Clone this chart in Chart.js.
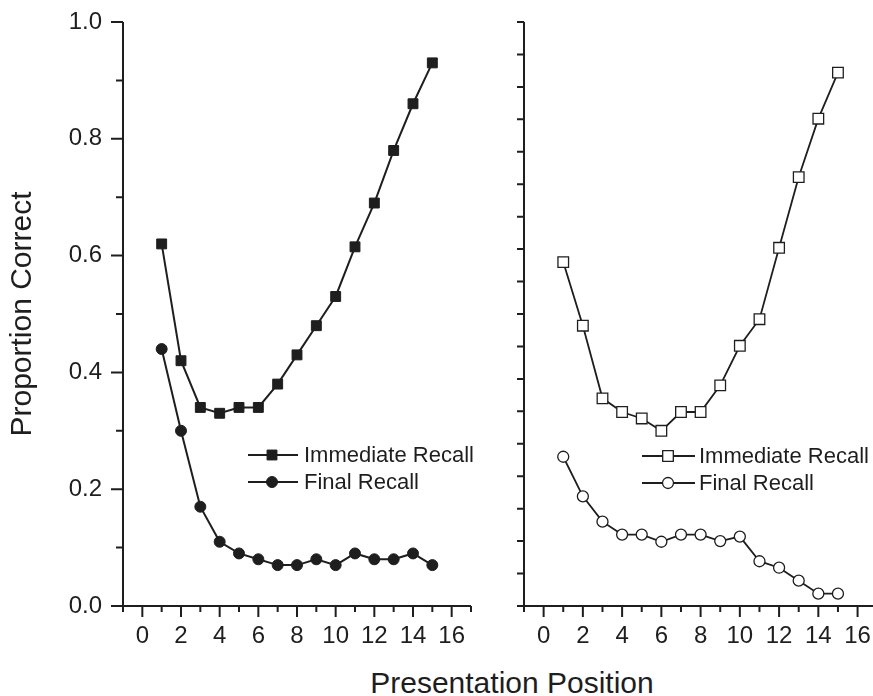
<!DOCTYPE html>
<html>
<head>
<meta charset="utf-8">
<title>Serial position curves</title>
<script src="https://cdn.jsdelivr.net/npm/chart.js@4.4.1/dist/chart.umd.min.js"></script>
<style>
  body { margin: 0; background: #fff; overflow: hidden; width: 873px; height: 696px; position: relative; }
  canvas { position: absolute; top: 0; }
  #left { left: 0; }
  #right { left: 460px; }
  #xtitle {
    position: absolute; left: 312px; width: 400px; top: 668px; text-align: center;
    font: 30px/30px "Liberation Sans", Arial, sans-serif; color: #1e1e1e;
  }
</style>
</head>
<body>
<canvas id="left" width="480" height="660"></canvas>
<canvas id="right" width="426" height="660"></canvas>
<div id="xtitle">Presentation Position</div>
<script>
'use strict';

// presentation positions
var positions = [1, 2, 3, 4, 5, 6, 7, 8, 9, 10, 11, 12, 13, 14, 15];

// left panel
var leftImmediate = [0.62, 0.42, 0.34, 0.33, 0.34, 0.34, 0.38, 0.43, 0.48, 0.53, 0.615, 0.69, 0.78, 0.86, 0.93];
var leftFinal = [0.44, 0.30, 0.17, 0.11, 0.09, 0.08, 0.07, 0.07, 0.08, 0.07, 0.09, 0.08, 0.08, 0.09, 0.07];

// right panel (axis has no labels, scale 0 - 0.9)
var rightImmediate = [0.53, 0.432, 0.32, 0.299, 0.289, 0.27, 0.299, 0.299, 0.34, 0.401, 0.442, 0.552, 0.661, 0.751, 0.822];
var rightFinal = [0.23, 0.169, 0.13, 0.11, 0.11, 0.099, 0.11, 0.11, 0.10, 0.107, 0.069, 0.059, 0.039, 0.019, 0.019];

var xTickLabels = ['0', '2', '4', '6', '8', '10', '12', '14', '16'];
var yTickLabels = ['0.0', '0.2', '0.4', '0.6', '0.8', '1.0'];

var ink = '#1e1e1e';
var fontFamily = '"Liberation Sans", Arial, sans-serif';

function toPoints(ys) {
  return positions.map(function (p, i) { return { x: p, y: ys[i] }; });
}

// ticks (long/short) + axis lines + the inline legend
var axisDecor = {
  id: 'axisDecor',
  afterDraw: function (chart, args, opts) {
    var ctx = chart.ctx;
    var area = chart.chartArea;
    var xs = chart.scales.x;
    var ys = chart.scales.y;
    ctx.save();
    ctx.strokeStyle = ink;
    ctx.lineWidth = 2;
    ctx.beginPath();
    ctx.moveTo(area.left, area.top);
    ctx.lineTo(area.left, area.bottom + 4);
    ctx.moveTo(area.left - 3, area.bottom);
    ctx.lineTo(area.right, area.bottom);
    xs.ticks.forEach(function (t) {
      var px = xs.getPixelForValue(t.value);
      ctx.moveTo(px, area.bottom);
      ctx.lineTo(px, area.bottom + (t.label ? opts.xMajor : opts.xMinor));
    });
    ys.ticks.forEach(function (t) {
      var py = ys.getPixelForValue(t.value);
      ctx.moveTo(area.left, py);
      ctx.lineTo(area.left - (t.label ? opts.yMajor : opts.yMinor), py);
    });
    ctx.stroke();

    // legend
    var lg = opts.legend;
    ctx.font = '22px ' + fontFamily;
    ctx.textBaseline = 'middle';
    ctx.textAlign = 'left';
    chart.data.datasets.forEach(function (ds, i) {
      var y = lg.rows[i];
      ctx.strokeStyle = ink;
      ctx.lineWidth = ds.borderWidth;
      ctx.beginPath();
      ctx.moveTo(lg.x1, y);
      ctx.lineTo(lg.x2, y);
      ctx.stroke();
      ctx.fillStyle = ds.pointBackgroundColor;
      ctx.strokeStyle = ds.pointBorderColor;
      ctx.lineWidth = ds.pointBorderWidth;
      Chart.helpers.drawPoint(ctx, {
        pointStyle: ds.pointStyle, radius: ds.pointRadius, rotation: 0, borderWidth: ds.pointBorderWidth
      }, lg.marker, y);
      ctx.fillStyle = ink;
      ctx.fillText(ds.label, lg.text, y + 1);
    });
    ctx.restore();
  }
};

function makeOptions(cfg) {
  return {
    responsive: false,
    animation: false,
    layout: { padding: { top: 22, right: cfg.padRight, bottom: 0, left: 0 } },
    plugins: {
      legend: { display: false },
      tooltip: { enabled: false },
      axisDecor: {
        xMajor: 11, xMinor: 6, yMajor: cfg.yMajor, yMinor: cfg.yMinor,
        legend: cfg.legend
      }
    },
    scales: {
      x: {
        type: 'linear',
        min: -1,
        max: 17,
        grid: { display: false, drawTicks: false },
        border: { display: false },
        afterFit: function (scale) {
          scale.height = 54;
          scale.paddingLeft = 0;
          scale.paddingRight = 0;
        },
        ticks: {
          stepSize: 1,
          autoSkip: false,
          maxRotation: 0,
          padding: 16,
          color: ink,
          font: { family: fontFamily, size: 24 },
          callback: function (v) {
            return xTickLabels.indexOf(String(v)) >= 0 ? String(v) : '';
          }
        }
      },
      y: {
        min: 0,
        max: cfg.yMax,
        grid: { display: false, drawTicks: false },
        border: { display: false },
        afterFit: function (scale) {
          scale.width = cfg.yWidth;
          scale.paddingTop = 0;
          scale.paddingBottom = 0;
        },
        title: cfg.yTitle,
        ticks: {
          stepSize: cfg.yStep,
          autoSkip: false,
          padding: 21,
          color: ink,
          font: { family: fontFamily, size: 24 },
          callback: cfg.yLabel
        }
      }
    }
  };
}

new Chart(document.getElementById('left'), {
  type: 'line',
  data: {
    datasets: [{
      label: 'Immediate Recall',
      data: toPoints(leftImmediate),
      borderColor: ink,
      borderWidth: 2,
      pointStyle: 'rect',
      pointRadius: 7,
      pointBackgroundColor: ink,
      pointBorderColor: ink,
      pointBorderWidth: 1
    }, {
      label: 'Final Recall',
      data: toPoints(leftFinal),
      borderColor: ink,
      borderWidth: 2,
      pointStyle: 'circle',
      pointRadius: 5.5,
      pointBackgroundColor: ink,
      pointBorderColor: ink,
      pointBorderWidth: 1
    }]
  },
  options: makeOptions({
    padRight: 9,
    yWidth: 123,
    yMax: 1,
    yStep: 0.1,
    yMajor: 12,
    yMinor: 7,
    yTitle: {
      display: true,
      text: 'Proportion Correct',
      color: ink,
      font: { family: fontFamily, size: 30 },
      padding: { top: 5, bottom: 0 }
    },
    yLabel: function (v) {
      var s = v.toFixed(1);
      return yTickLabels.indexOf(s) >= 0 ? s : '';
    },
    legend: { x1: 248, x2: 298, marker: 272, text: 304, rows: [455, 482] }
  }),
  plugins: [axisDecor]
});

new Chart(document.getElementById('right'), {
  type: 'line',
  data: {
    datasets: [{
      label: 'Immediate Recall',
      data: toPoints(rightImmediate),
      borderColor: ink,
      borderWidth: 1.8,
      pointStyle: 'rect',
      pointRadius: 7.5,
      pointBackgroundColor: '#ffffff',
      pointBorderColor: ink,
      pointBorderWidth: 1.3
    }, {
      label: 'Final Recall',
      data: toPoints(rightFinal),
      borderColor: ink,
      borderWidth: 1.8,
      pointStyle: 'circle',
      pointRadius: 5.5,
      pointBackgroundColor: '#ffffff',
      pointBorderColor: ink,
      pointBorderWidth: 1.3
    }]
  },
  options: makeOptions({
    padRight: 4,
    yWidth: 64,
    yMax: 0.9,
    yStep: 0.05,
    yMajor: 7,
    yMinor: 7,
    yTitle: { display: false },
    yLabel: function () { return ''; },
    legend: { x1: 182, x2: 235, marker: 208, text: 239, rows: [456, 483] }
  }),
  plugins: [axisDecor]
});
</script>
</body>
</html>
